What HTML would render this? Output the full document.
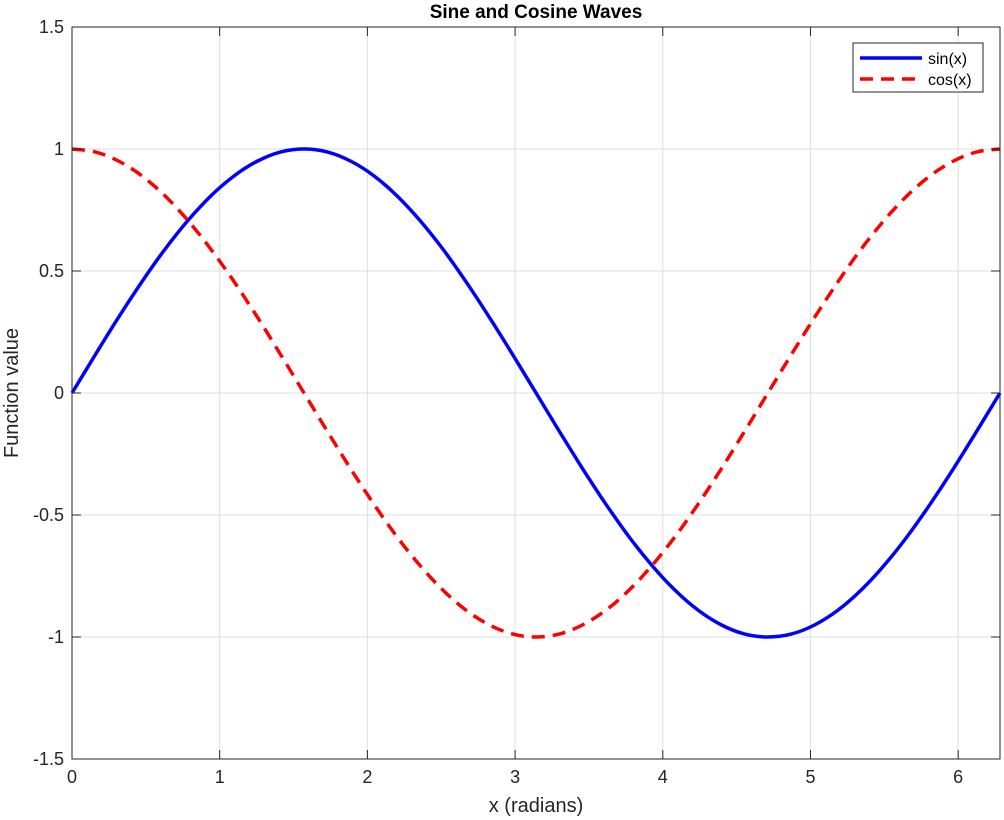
<!DOCTYPE html>
<html><head><meta charset="utf-8"><style>
html,body{margin:0;padding:0;background:#fff;}
svg{display:block;font-family:"Liberation Sans",sans-serif;}
</style></head><body>
<svg id="chart" width="1004" height="820" viewBox="0 0 1004 820" xmlns="http://www.w3.org/2000/svg">
<rect x="0" y="0" width="1004" height="820" fill="#fff"/>
<g id="grid"></g>
<g id="series"></g>
<rect x="72" y="27" width="928" height="732" fill="none" stroke="#262626" stroke-width="1"/>
<g id="ticks"></g>
<text x="536" y="18" text-anchor="middle" font-size="19" font-weight="bold" fill="#000">Sine and Cosine Waves</text>
<text x="536" y="812" text-anchor="middle" font-size="20" fill="#262626">x (radians)</text>
<text transform="translate(18,393) rotate(-90)" text-anchor="middle" font-size="20" fill="#262626">Function value</text>
<g>
<rect x="853" y="43" width="130" height="49" fill="#fff" stroke="#262626" stroke-width="1"/>
<line x1="860" y1="58" x2="922" y2="58" stroke="#0000ff" stroke-width="3.5"/>
<text x="928" y="64" font-size="16" fill="#000">sin(x)</text>
<line x1="860" y1="79" x2="922" y2="79" stroke="#ff0000" stroke-width="3.5" stroke-dasharray="13,8"/>
<text x="928" y="85" font-size="16" fill="#000">cos(x)</text>
</g>
</svg>
<script>
const xValues = [0,0.157,0.314,0.471,0.628,0.785,0.942,1.100,1.257,1.414,1.571,1.728,1.885,2.042,2.199,2.356,2.513,2.670,2.827,2.985,3.142,3.299,3.456,3.613,3.770,3.927,4.084,4.241,4.398,4.555,4.712,4.869,5.027,5.184,5.341,5.498,5.655,5.812,5.969,6.126,6.283];
const sinValues = [0,0.156,0.309,0.454,0.588,0.707,0.809,0.891,0.951,0.988,1,0.988,0.951,0.891,0.809,0.707,0.588,0.454,0.309,0.156,0,-0.156,-0.309,-0.454,-0.588,-0.707,-0.809,-0.891,-0.951,-0.988,-1,-0.988,-0.951,-0.891,-0.809,-0.707,-0.588,-0.454,-0.309,-0.156,0];
const cosValues = [1,0.988,0.951,0.891,0.809,0.707,0.588,0.454,0.309,0.156,0,-0.156,-0.309,-0.454,-0.588,-0.707,-0.809,-0.891,-0.951,-0.988,-1,-0.988,-0.951,-0.891,-0.809,-0.707,-0.588,-0.454,-0.309,-0.156,0,0.156,0.309,0.454,0.588,0.707,0.809,0.891,0.951,0.988,1];
const xTicks = [0,1,2,3,4,5,6];
const yTicks = [-1.5,-1,-0.5,0,0.5,1,1.5];
const xTickLabels = ["0","1","2","3","4","5","6"];
const yTickLabels = ["-1.5","-1","-0.5","0","0.5","1","1.5"];

const L=72,R=1000,T=27,B=759,XMAX=6.2832;
function sx(v){return L+(v/XMAX)*(R-L);}
function sy(v){return B-((v+1.5)/3)*(B-T);}
const NS="http://www.w3.org/2000/svg";
function mk(tag,attrs,parent){const e=document.createElementNS(NS,tag);for(const k in attrs)e.setAttribute(k,attrs[k]);parent.appendChild(e);return e;}
const grid=document.getElementById('grid'),ticks=document.getElementById('ticks'),series=document.getElementById('series');
xTicks.forEach((t,i)=>{
  const x=sx(t);
  let g=mk('line',{x1:x,y1:T,x2:x,y2:B,stroke:'#dfdfdf','stroke-width':1},grid);
  
  
  let a=mk('line',{x1:x,y1:B,x2:x,y2:B-9,stroke:'#262626'},ticks);
  
  
  let b=mk('line',{x1:x,y1:T,x2:x,y2:T+9,stroke:'#262626'},ticks);
  
  
  let l=mk('text',{x:x,y:B+24,'text-anchor':'middle','font-size':18,fill:'#262626'},ticks);
  l.textContent=xTickLabels[i];
  
  
});
yTicks.forEach((t,i)=>{
  const y=sy(t);
  let g=mk('line',{x1:L,y1:y,x2:R,y2:y,stroke:'#dfdfdf','stroke-width':1},grid);
  
  
  let a=mk('line',{x1:L,y1:y,x2:L+9,y2:y,stroke:'#262626'},ticks);
  
  
  let b=mk('line',{x1:R,y1:y,x2:R-9,y2:y,stroke:'#262626'},ticks);
  
  
  let l=mk('text',{x:L-8,y:y+6,'text-anchor':'end','font-size':18,fill:'#262626'},ticks);
  l.textContent=yTickLabels[i];
  
  
});
// smooth path through the points (Catmull-Rom to Bezier)
function pathD(vals){
  const p=xValues.map((x,i)=>[sx(x),sy(vals[i])]);
  let d='M'+p[0][0].toFixed(1)+','+p[0][1].toFixed(1);
  for(let i=0;i<p.length-1;i++){
    const p0=p[Math.max(0,i-1)],p1=p[i],p2=p[i+1],p3=p[Math.min(p.length-1,i+2)];
    const c1=[p1[0]+(p2[0]-p0[0])/6,p1[1]+(p2[1]-p0[1])/6];
    const c2=[p2[0]-(p3[0]-p1[0])/6,p2[1]-(p3[1]-p1[1])/6];
    d+=' C'+c1[0].toFixed(1)+','+c1[1].toFixed(1)+' '+c2[0].toFixed(1)+','+c2[1].toFixed(1)+' '+p2[0].toFixed(1)+','+p2[1].toFixed(1);
  }
  return d;
}
let s=mk('path',{d:pathD(sinValues),fill:'none',stroke:'#0000ff','stroke-width':3.5,'stroke-linejoin':'round'},series);


let c=mk('path',{d:pathD(cosValues),fill:'none',stroke:'#ff0000','stroke-width':3.5,'stroke-dasharray':'13,8'},series);


</script>
</body></html>
